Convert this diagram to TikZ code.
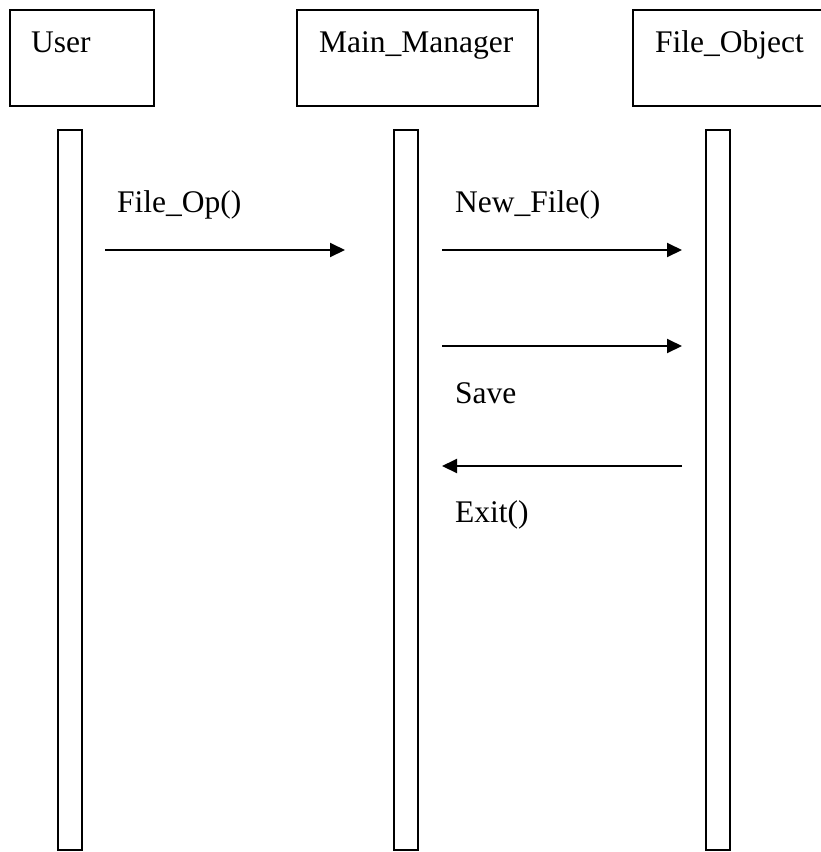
\documentclass[tikz,border=0pt]{standalone}
\usepackage{fontspec}
\setmainfont{Liberation Serif}
\usetikzlibrary{arrows.meta}
\begin{document}
\begin{tikzpicture}[x=1pt,y=-1pt,
  objbox/.style={draw, line width=2pt, minimum height=96pt, inner sep=0pt},
  lifeline/.style={draw, line width=2pt, minimum width=24pt, minimum height=720pt, inner sep=0pt},
  lbl/.style={anchor=base west, inner sep=0pt, font=\fontsize{31.5}{38}\selectfont},
  msg/.style={line width=2pt, -{Triangle[length=15pt,width=14pt]}}]
  \useasboundingbox (0,0) rectangle (821,852);
  % object boxes
  \node[objbox, minimum width=144pt] (userbox) at (82,58) {};
  \node[objbox, minimum width=241pt] (mainbox) at (417.5,58) {};
  \node[objbox, minimum width=196pt] (filebox) at (731,58) {};
  \node[lbl] (usertxt) at (31,52) {User};
  \node[lbl] (maintxt) at (319,52) {Main\_Manager};
  \node[lbl] (filetxt) at (655,52) {File\_Object};
  % lifelines
  \node[lifeline] (userlife) at (70,490) {};
  \node[lifeline] (mainlife) at (406,490) {};
  \node[lifeline] (filelife) at (718,490) {};
  % message ends
  \coordinate (m1s) at (105,250);
  \coordinate (m1e) at (345,250);
  \coordinate (m2s) at (442,250);
  \coordinate (m2e) at (682,250);
  \coordinate (m3s) at (442,346);
  \coordinate (m3e) at (682,346);
  \coordinate (m4s) at (682,466);
  \coordinate (m4e) at (442,466);
  \draw[msg] (m1s) -- (m1e);
  \draw[msg] (m2s) -- (m2e);
  \draw[msg] (m3s) -- (m3e);
  \draw[msg] (m4s) -- (m4e);
  % message labels
  \node[lbl] (l1) at (117,212) {File\_Op()};
  \node[lbl] (l2) at (455,212) {New\_File()};
  \node[lbl] (l3) at (455,403) {Save};
  \node[lbl] (l4) at (455,522) {Exit()};
\end{tikzpicture}
\end{document}
